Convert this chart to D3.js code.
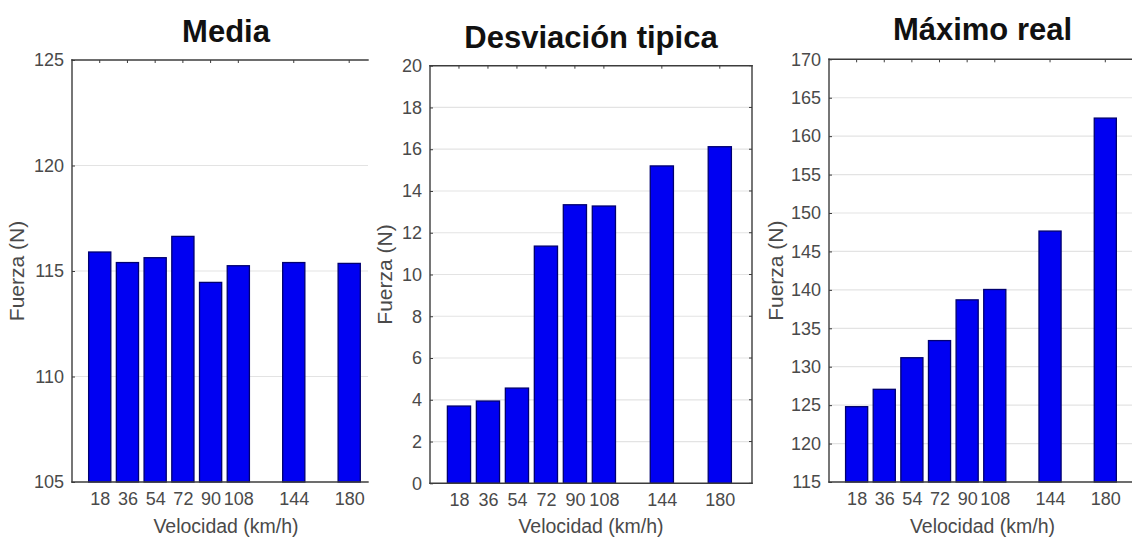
<!DOCTYPE html>
<html>
<head>
<meta charset="utf-8">
<script src="https://cdn.jsdelivr.net/npm/d3@7"></script>
<style>
  html, body { margin: 0; padding: 0; background: #fff; }
  svg { display: block; font-family: "Liberation Sans", Arial, sans-serif; }
</style>
</head>
<body>
<svg id="chart" width="1132" height="537"></svg>
<script>
// Velocidades ensayadas (km/h)
const velocidades = [18, 36, 54, 72, 90, 108, 144, 180];

// Fuerza media, desviación típica y máximo real por velocidad (N)
const media      = [115.9, 115.4, 115.63, 116.64, 114.46, 115.25, 115.4, 115.36];
const desviacion = [3.7, 3.94, 4.56, 11.36, 13.34, 13.28, 15.2, 16.12];
const maximo     = [124.8, 127.06, 131.17, 133.4, 138.7, 140.05, 147.65, 162.35];

// Marcas del eje Y de cada gráfico
const ticksMedia      = [105, 110, 115, 120, 125];
const ticksDesviacion = [0, 2, 4, 6, 8, 10, 12, 14, 16, 18, 20];
const ticksMaximo     = [115, 120, 125, 130, 135, 140, 145, 150, 155, 160, 165, 170];

const titulos = ["Media", "Desviación tipica", "Máximo real"];
const etiquetaX = "Velocidad (km/h)";
const etiquetaY = "Fuerza (N)";

const svg = d3.select("#chart");

// Disposición de los tres paneles
const paneles = [
  { titulo: titulos[0], valores: media, ticks: ticksMedia,
    x0: 72, x1: 380, yTop: 60, yBot: 482, corte: 368, bordeDer: false,
    tituloY: 41.5, labelYx: 24 },
  { titulo: titulos[1], valores: desviacion, ticks: ticksDesviacion,
    x0: 430, x1: 752, yTop: 65.7, yBot: 483.3, corte: 752, bordeDer: true,
    tituloY: 47.5, labelYx: 392 },
  { titulo: titulos[2], valores: maximo, ticks: ticksMaximo,
    x0: 829, x1: 1136, yTop: 59.3, yBot: 482, corte: 1132, bordeDer: false,
    tituloY: 40, labelYx: 783 }
];

const colorEje = "#3c3c3c";
const colorTexto = "#4a4a4a";

paneles.forEach((p, i) => {
  const g = svg.append("g");
  const x = d3.scaleLinear().domain([0, 200]).range([p.x0, p.x1]);
  const yMin = d3.min(p.ticks), yMax = d3.max(p.ticks);
  const y = d3.scaleLinear().domain([yMin, yMax]).range([p.yBot, p.yTop]);
  const right = Math.min(p.x1, p.corte);

  const clipId = "clip" + i;
  svg.append("clipPath").attr("id", clipId)
    .append("rect").attr("x", p.x0).attr("y", p.yTop - 2)
    .attr("width", right - p.x0).attr("height", p.yBot - p.yTop + 4);

  // Rejilla horizontal
  g.append("g").selectAll("line")
    .data(p.ticks.filter(t => t !== yMin && t !== yMax))
    .join("line")
    .attr("x1", p.x0).attr("x2", right)
    .attr("y1", d => y(d)).attr("y2", d => y(d))
    .attr("stroke", "#e3e3e3").attr("stroke-width", 1.2);

  // Barras
  const ancho = x(18 * 0.8) - x(0);
  g.append("g").attr("clip-path", `url(#${clipId})`)
    .selectAll("rect")
    .data(velocidades.map((v, k) => ({ v, val: p.valores[k] })))
    .join("rect")
    .attr("x", d => x(d.v) - ancho / 2)
    .attr("width", ancho)
    .attr("y", d => y(d.val))
    .attr("height", d => y(yMin) - y(d.val))
    .attr("fill", "#0000f2")
    .attr("stroke", "#000070")
    .attr("stroke-width", 1.3);

  // Eje Y (izquierda) con marcas hacia dentro
  const ejeY = g.append("g")
    .attr("transform", `translate(${p.x0},0)`)
    .call(d3.axisLeft(y).tickValues(p.ticks).tickSize(-3).tickPadding(8).tickFormat(d3.format("d")));
  ejeY.select(".domain").remove();
  ejeY.selectAll(".tick line").attr("stroke", colorEje);
  ejeY.selectAll(".tick text")
    .attr("fill", colorTexto).attr("font-size", 18)
    .attr("font-family", "Liberation Sans, Arial, sans-serif");

  // Eje X (abajo)
  const ejeX = g.append("g")
    .attr("transform", `translate(0,${p.yBot})`)
    .call(d3.axisBottom(x).tickValues(velocidades).tickSize(0).tickPadding(10).tickFormat(d3.format("d")));
  ejeX.select(".domain").remove();
  ejeX.selectAll(".tick text")
    .attr("fill", colorTexto).attr("font-size", 18)
    .attr("font-family", "Liberation Sans, Arial, sans-serif");

  // Marcas superiores
  g.append("g").selectAll("line").data(velocidades).join("line")
    .attr("x1", d => x(d)).attr("x2", d => x(d))
    .attr("y1", p.yTop).attr("y2", p.yTop + 3)
    .attr("stroke", colorEje).attr("stroke-width", 1);

  // Marcas derechas
  if (p.bordeDer) {
    g.append("g").selectAll("line").data(p.ticks).join("line")
      .attr("x1", p.x1 - 3).attr("x2", p.x1)
      .attr("y1", d => y(d)).attr("y2", d => y(d))
      .attr("stroke", colorEje).attr("stroke-width", 1);
  }

  // Marco
  const lineas = [
    [p.x0, p.yTop, p.x0, p.yBot],
    [p.x0, p.yTop, right, p.yTop],
    [p.x0, p.yBot, right, p.yBot]
  ];
  if (p.bordeDer) lineas.push([p.x1, p.yTop, p.x1, p.yBot]);
  g.append("g").selectAll("line").data(lineas).join("line")
    .attr("x1", d => d[0]).attr("y1", d => d[1])
    .attr("x2", d => d[2]).attr("y2", d => d[3])
    .attr("stroke", colorEje).attr("stroke-width", 1.4)
    .attr("stroke-linecap", "square");

  // Título
  g.append("text")
    .attr("x", (p.x0 + p.x1) / 2).attr("y", p.tituloY)
    .attr("text-anchor", "middle")
    .attr("font-size", 31).attr("font-weight", "bold").attr("fill", "#111")
    .text(p.titulo);

  // Etiqueta del eje X
  g.append("text")
    .attr("x", (p.x0 + p.x1) / 2).attr("y", 533)
    .attr("text-anchor", "middle")
    .attr("font-size", 19.5).attr("fill", colorTexto)
    .text(etiquetaX);

  // Etiqueta del eje Y
  g.append("text")
    .attr("transform", `translate(${p.labelYx},${(p.yTop + p.yBot) / 2}) rotate(-90)`)
    .attr("text-anchor", "middle")
    .attr("font-size", 21).attr("fill", colorTexto)
    .text(etiquetaY);
});
</script>
</body>
</html>
